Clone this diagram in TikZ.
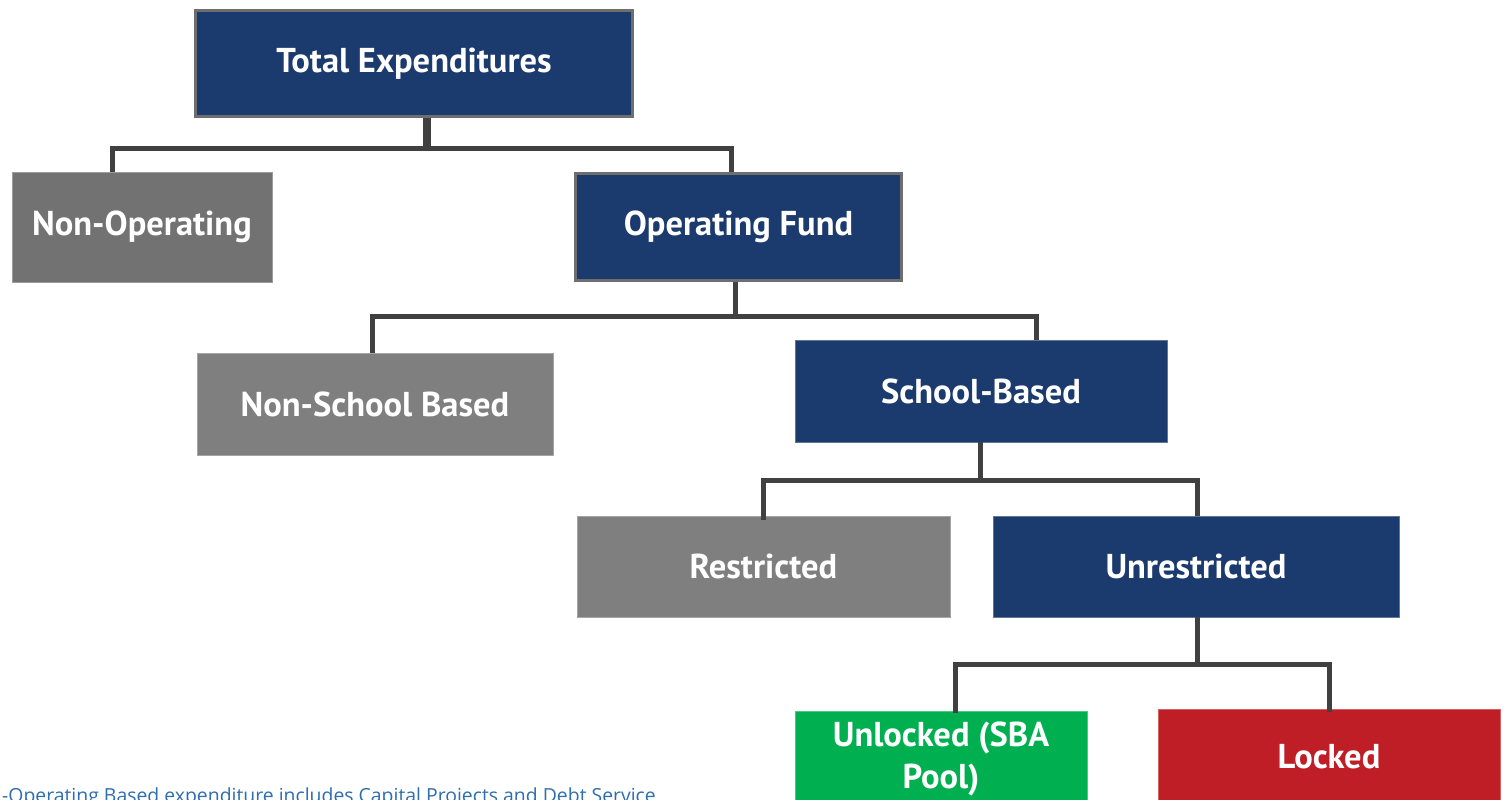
\documentclass[tikz,border=0pt]{standalone}
\usepackage{fontspec}
\setmainfont{PT Sans}
\newfontfamily\notefont{Open Sans}
\begin{document}
\begin{tikzpicture}[x=1pt,y=-1pt,
  box/.style={rectangle, inner sep=0pt, align=center, text=white,
    font=\fontsize{34.5}{42}\selectfont\bfseries, draw=#1!70!white, line width=0.8pt},
  bluebox/.style={box=navy, fill=navy},
  framedblue/.style={box=navy, fill=navy, draw=frame, line width=3pt},
  greybox/.style={box=greyfill, fill=greyfill},
  darkgrey/.style={box=greydark, fill=greydark},
  greenbox/.style={box=okgreen, fill=okgreen},
  redbox/.style={box=lockred, fill=lockred},
  link/.style={draw=linkgrey, line width=5pt},
]
\definecolor{navy}{HTML}{1B3A6E}
\definecolor{frame}{HTML}{6E6E6E}
\definecolor{greyfill}{HTML}{7F7F7F}
\definecolor{greydark}{HTML}{727272}
\definecolor{okgreen}{HTML}{00B050}
\definecolor{lockred}{HTML}{C01E26}
\definecolor{linkgrey}{HTML}{404040}
\definecolor{noteblue}{HTML}{2E6DB0}

\useasboundingbox (0,0) rectangle (1507,800);

% boxes of the tree
\node[framedblue, minimum width=437pt, minimum height=106pt] (total) at (414,63.5) {Total Expenditures};
\node[darkgrey, minimum width=260pt, minimum height=110pt] (nonop) at (142,227) {Non-Operating};
\node[framedblue, minimum width=326pt, minimum height=107pt] (opfund) at (738.5,227) {Operating Fund};
\node[greybox, minimum width=356pt, minimum height=102pt] (nonsch) at (375,404) {Non-School Based};
\node[bluebox, minimum width=372pt, minimum height=102pt] (school) at (981,391) {School-Based};
\node[greybox, minimum width=373pt, minimum height=101pt] (restr) at (763.5,566.5) {Restricted};
\node[bluebox, minimum width=406pt, minimum height=101pt] (unrestr) at (1196,566.5) {Unrestricted};
\node[greenbox, minimum width=292pt, minimum height=96pt] (unlocked) at (941,759) {Unlocked (SBA\\Pool)};
\node[redbox, minimum width=342pt, minimum height=96pt] (locked) at (1329,757) {Locked};

% junctions of the connectors
\coordinate (j1) at (427,148);
\coordinate (j2) at (735,316);
\coordinate (j3) at (980,480);
\coordinate (j4) at (1197,664);

\draw[link, line width=8pt] (total.south -| j1) -- (j1);
\draw[link] (j1) -| ([xshift=-30pt]nonop.north);
\draw[link] (j1) -| ([xshift=-7.5pt]opfund.north);

\draw[link] (opfund.south -| j2) -- (j2);
\draw[link] (j2) -| ([xshift=-3pt]nonsch.north);
\draw[link] (j2) -| ([xshift=55pt]school.north);

\draw[link] (school.south -| j3) -- (j3);
\draw[link] (j3) -| ([xshift=-0.5pt,yshift=-4pt]restr.north);
\draw[link] (j3) -| (unrestr.north -| j4);

\draw[link] (unrestr.south -| j4) -- (j4);
\draw[link] (j4) -| ([xshift=14pt,yshift=-2pt]unlocked.north);
\draw[link] (j4) -| ([yshift=-3pt]locked.north);

% footnote along the lower edge
\node[anchor=base west, inner sep=0pt, text=noteblue,
  font=\notefont\fontsize{19.4}{21}\selectfont] (note) at (2,802)
  {-Operating Based expenditure includes Capital Projects and Debt Service};
\end{tikzpicture}
\end{document}
